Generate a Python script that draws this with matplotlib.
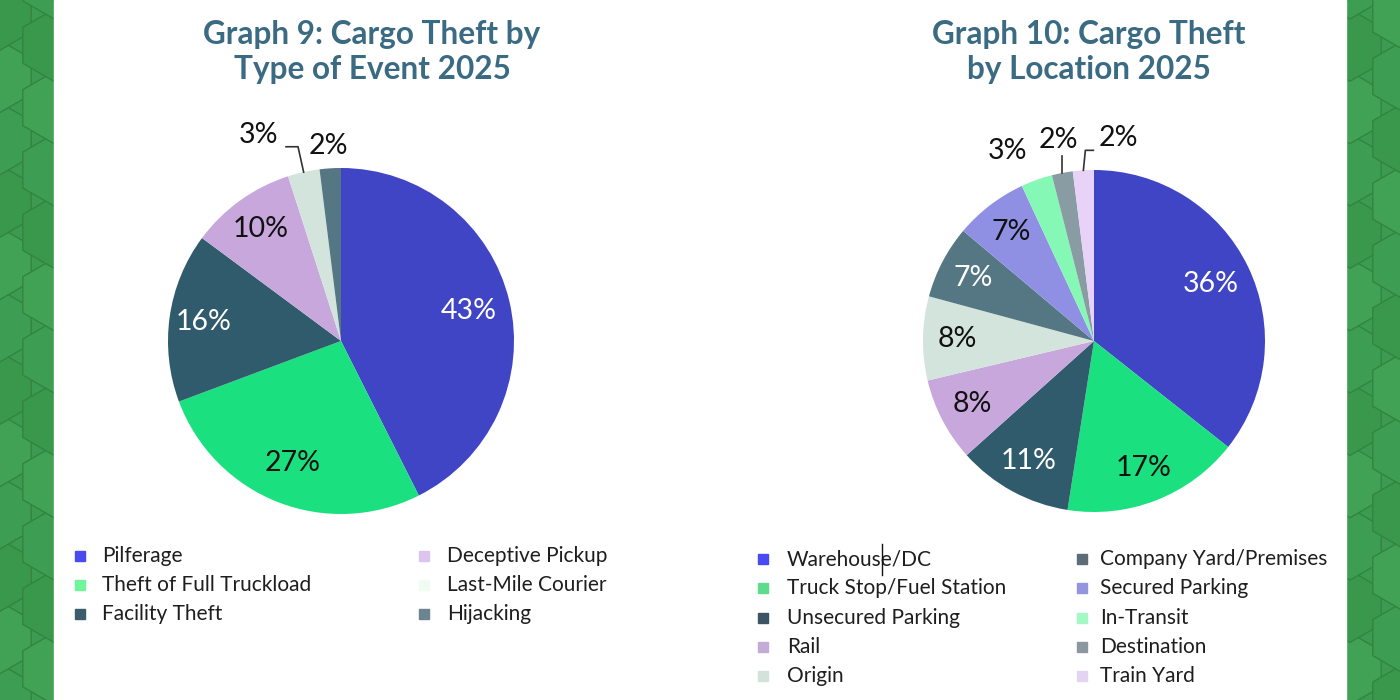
import numpy as np
import matplotlib
matplotlib.use('Agg')
import matplotlib.pyplot as plt
from matplotlib.colors import to_rgb
from matplotlib.patches import Rectangle, RegularPolygon

plt.rcParams['font.family'] = ['Lato', 'DejaVu Sans']

# ---- data ----
event_labels = ['Pilferage', 'Theft of Full Truckload', 'Facility Theft',
                'Deceptive Pickup', 'Last-Mile Courier', 'Hijacking']
event_values = [43, 27, 16, 10, 3, 2]
event_colors = ['#4045c6', '#1ae07f', '#305b6c', '#c8a8dc', '#d2e4db', '#557683']
event_key_colors = ['#4a4af2', '#6ff59c', '#3c5c6c', '#dcc4f0', '#eefcf4', '#6c8490']

loc_labels = ['Warehouse/DC', 'Truck Stop/Fuel Station', 'Unsecured Parking', 'Rail',
              'Origin', 'Company Yard/Premises', 'Secured Parking', 'In-Transit',
              'Destination', 'Train Yard']
loc_values = [36, 17, 11, 8, 8, 7, 7, 3, 2, 2]
loc_colors = ['#4045c6', '#1ae07f', '#305b6c', '#c8a8dc', '#d2e4db', '#557683',
              '#8f90e3', '#85f8b5', '#8a9ca3', '#e9d2f8']
loc_key_colors = ['#4a4af2', '#5edc8c', '#3c5464', '#c4acd8', '#d4e2dc', '#5c6c78',
                  '#9494e0', '#a4f8c4', '#8c98a0', '#e4d4f4']

TITLE_C = '#3a6b82'
H = 700
PCT_FS = 20.5

fig = plt.figure(figsize=(14, 7), dpi=100)
ax = fig.add_axes([0, 0, 1, 1])

# ---- green hex background strips ----
ax.add_patch(Rectangle((0, 0), 1400, H, color='#3c9b50', zorder=0))
R = 36
for i in range(-1, 42):
    for j in range(-1, 14):
        cx = i * 1.5 * R
        cy = j * np.sqrt(3) * R + (np.sqrt(3) * R / 2 if i % 2 else 0)
        if 80 < cx < 1320:
            continue
        shade = ['#3d9d52', '#41a256', '#3a984d'][(i + j) % 3]
        ax.add_patch(RegularPolygon((cx, cy), 6, radius=R, orientation=0,
                                    facecolor=shade, edgecolor='#32853f', lw=1.0, zorder=1))
ax.add_patch(Rectangle((54, 0), 1292, H, color='white', zorder=2))


def pie_chart(values, colors, center, radius, outside):
    wedges, _ = ax.pie(values, colors=colors, startangle=90, counterclock=False,
                       center=center, radius=radius, wedgeprops=dict(linewidth=0, zorder=3))
    cx, cy = center
    for k, w in enumerate(wedges):
        mid = np.deg2rad((w.theta1 + w.theta2) / 2)
        txt = f'{values[k]}%'
        if k in outside:
            kind, rf, dang = outside[k]
            ex, ey = cx + radius * np.cos(mid), cy + radius * np.sin(mid)
            if kind == 'none':
                a = mid + np.deg2rad(dang)
                ax.text(cx + rf * radius * np.cos(a), cy + rf * radius * np.sin(a), txt,
                        ha='center', va='center', fontsize=PCT_FS, color='#111111', zorder=5)
            elif kind == 'up':
                ax.plot([ex, ex], [ey, ey + 17], color='#333333', lw=1.2, zorder=4)
                ax.text(ex - 4, ey + 33, txt, ha='center', va='center', fontsize=PCT_FS,
                        color='#111111', zorder=5)
            elif kind == 'left':
                bx, by = cx + rf * radius * np.cos(mid), cy + rf * radius * np.sin(mid)
                ax.plot([ex, bx, bx - 12], [ey, by, by], color='#333333', lw=1.2, zorder=4)
                ax.text(bx - 20, by + 12, txt, ha='right', va='center', fontsize=PCT_FS,
                        color='#111111', zorder=5)
            elif kind == 'right':
                bx, by = ex + 2, ey + 20
                ax.plot([ex, bx, bx + 8], [ey, by, by], color='#333333', lw=1.2, zorder=4)
                ax.text(bx + 13, by + 12, txt, ha='left', va='center', fontsize=PCT_FS,
                        color='#111111', zorder=5)
        else:
            r, g, b = to_rgb(colors[k])
            lum = 0.299 * r + 0.587 * g + 0.114 * b
            d = 0.76 if values[k] > 20 else 0.8
            ax.text(cx + d * radius * np.cos(mid), cy + d * radius * np.sin(mid), txt,
                    ha='center', va='center', fontsize=PCT_FS,
                    color='white' if lum < 0.45 else '#111111', zorder=5)


def key(labels, kcolors, nrows, xm, xt, ys):
    for k, lab in enumerate(labels):
        c, r = divmod(k, nrows)
        y = H - ys[r]
        ax.plot(xm[c], y, marker='s', ms=7.5, color=kcolors[k], ls='', zorder=5)
        ax.text(xt[c], y, lab, ha='left', va='center', fontsize=15,
                color='#1e1e1e', zorder=5)


pie_chart(event_values, event_colors, (341, H - 341), 173,
          {4: ('left', 1.15, 0), 5: ('none', 1.13, 0)})
pie_chart(loc_values, loc_colors, (1094, H - 341), 171,
          {7: ('none', 1.22, 5), 8: ('up', 0, 0), 9: ('right', 0, 0)})

key(event_labels, event_key_colors, 3, [80, 424], [102, 447], [556, 585, 614])
key(loc_labels, loc_key_colors, 5, [763, 1082], [787, 1100], [559, 588, 618, 647, 676])

# text cursor visible in the source screenshot
ax.plot([882, 882], [H - 544, H - 575], color='#111111', lw=1, zorder=6)

ax.text(372, H - 52, 'Graph 9: Cargo Theft by\nType of Event 2025', ha='center', va='center',
        fontsize=22.7, fontweight='bold', color=TITLE_C, linespacing=1.28, zorder=5)
ax.text(1089, H - 52, 'Graph 10: Cargo Theft\nby Location 2025', ha='center', va='center',
        fontsize=22.7, fontweight='bold', color=TITLE_C, linespacing=1.28, zorder=5)

ax.set_xlim(0, 1400)
ax.set_ylim(0, H)
ax.axis('off')

fig.savefig('out.png', dpi=100)
